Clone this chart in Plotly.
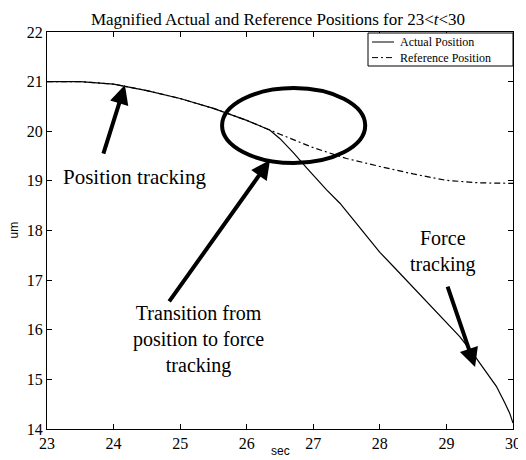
import plotly.graph_objects as go

# Shared segment (actual and reference coincide until ~26.35 s)
common_t = [23.0, 23.5, 24.0, 24.5, 25.0, 25.5, 26.0, 26.35]
common_um = [21.0, 21.0, 20.95, 20.82, 20.66, 20.46, 20.22, 20.02]

# Reference position after the split
ref_t = [26.5, 27.0, 27.5, 28.0, 28.5, 29.0, 29.5, 30.0]
ref_um = [19.94, 19.67, 19.45, 19.29, 19.14, 19.01, 18.96, 18.95]

# Actual position after the split
act_t = [26.5, 26.7, 26.9, 27.05, 27.2, 27.4, 27.6, 27.8, 28.0, 28.2, 28.4,
         28.6, 28.8, 29.0, 29.2, 29.4, 29.6, 29.75, 29.88, 29.95, 30.0]
act_um = [19.85, 19.57, 19.26, 19.03, 18.82, 18.55, 18.22, 17.88, 17.56, 17.28, 17.0,
          16.72, 16.42, 16.14, 15.86, 15.52, 15.14, 14.86, 14.52, 14.32, 14.12]

x_ticks = [23, 24, 25, 26, 27, 28, 29, 30]
y_ticks = [14, 15, 16, 17, 18, 19, 20, 21, 22]

series_names = ["Actual Position", "Reference Position"]
series_dash = ["solid", "6px,3px,2px,3px"]

serif = "Liberation Serif, Times New Roman, serif"
sans = "Liberation Sans, Arial, sans-serif"

# page body adds an 8px offset; target plot area on screen: x 47..513, y 32..429
OFF = 8
W, H = 526 - OFF, 460 - OFF
L, T = 47 - OFF, 32 - OFF
R = W - (513 - OFF)
B = H - (429 - OFF)
pw, ph = W - L - R, H - T - B


def px_x(p):
    return (p - OFF - L) / pw


def px_y(p):
    return (H - B - (p - OFF)) / ph


fig = go.Figure()
fig.add_trace(go.Scatter(
    x=common_t + act_t, y=common_um + act_um, mode="lines",
    name=series_names[0], line=dict(color="black", width=1.2, dash=series_dash[0])))
fig.add_trace(go.Scatter(
    x=common_t + ref_t, y=common_um + ref_um, mode="lines",
    name=series_names[1], line=dict(color="black", width=1.2, dash=series_dash[1])))

axis_common = dict(
    showgrid=False, zeroline=False, showline=True, linecolor="black", linewidth=1,
    mirror="ticks", ticks="inside", ticklen=5, tickcolor="black", automargin=False,
    tickfont=dict(family=serif, size=16, color="black"),
)
fig.update_xaxes(range=[23, 30], tickvals=x_ticks, **axis_common)
fig.update_yaxes(range=[14, 22], tickvals=y_ticks, **axis_common)

# Axis titles
fig.add_annotation(x=0.5, y=px_y(451), xref="paper", yref="paper", text="sec",
                   showarrow=False, xanchor="center", yanchor="middle",
                   font=dict(family=sans, size=12, color="black"))
fig.add_annotation(x=px_x(13), y=0.5, xref="paper", yref="paper", text="um", textangle=-90,
                   showarrow=False, xanchor="center", yanchor="middle",
                   font=dict(family=sans, size=12, color="black"))

# Ellipse around the transition
fig.add_shape(type="circle", xref="x", yref="y", x0=25.63, x1=27.78, y0=19.36, y1=20.87,
              line=dict(color="black", width=4))

# Arrows (head x, head y, tail x, tail y)
arrows = [
    (24.17, 20.93, 23.84, 19.52),
    (26.35, 19.42, 24.82, 16.54),
    (29.43, 15.25, 29.01, 16.90),
]
for hx, hy, tx, ty in arrows:
    fig.add_annotation(x=hx, y=hy, ax=tx, ay=ty, xref="x", yref="y", axref="x", ayref="y",
                       text="", showarrow=True, arrowhead=2, arrowsize=0.95, arrowwidth=4,
                       arrowcolor="black", standoff=0, startstandoff=0)

labels = [
    (24.31, 19.08, "Position tracking", 21),
    (25.27, 15.80, "Transition from<br>position to force<br>tracking", 20),
    (28.95, 17.57, "Force<br>tracking", 20),
]
for x, y, t, s in labels:
    fig.add_annotation(x=x, y=y, xref="x", yref="y", text=t, showarrow=False,
                       font=dict(family=serif, size=s, color="black"), align="center")

# Legend box drawn MATLAB-style
fig.add_shape(type="rect", xref="paper", yref="paper",
              x0=px_x(368), x1=px_x(513), y0=px_y(66), y1=px_y(33),
              line=dict(color="black", width=1), fillcolor="white", layer="above")
for i, dsh in enumerate(series_dash):
    yy = px_y(42.0 + 15.6 * i)
    fig.add_shape(type="line", xref="paper", yref="paper",
                  x0=px_x(372), x1=px_x(394), y0=yy, y1=yy,
                  line=dict(color="black", width=1, dash=dsh), layer="above")
fig.add_annotation(x=px_x(398), y=px_y(49.8), xref="paper", yref="paper",
                   text="<br>".join(series_names), align="left",
                   showarrow=False, xanchor="left", yanchor="middle",
                   font=dict(family=serif, size=12, color="black"))

fig.update_layout(
    width=W, height=H,
    margin=dict(l=L, r=R, t=T, b=B, autoexpand=False),
    paper_bgcolor="white", plot_bgcolor="white",
    title=dict(text="Magnified Actual and Reference Positions for 23&lt;<i>t</i>&lt;30",
               x=(278 - OFF) / W, xanchor="center", y=1 - (19 - OFF) / H, yanchor="middle",
               yref="container",
               font=dict(family=serif, size=17, color="black")),
    showlegend=False,
)

fig.write_html("out.html")
